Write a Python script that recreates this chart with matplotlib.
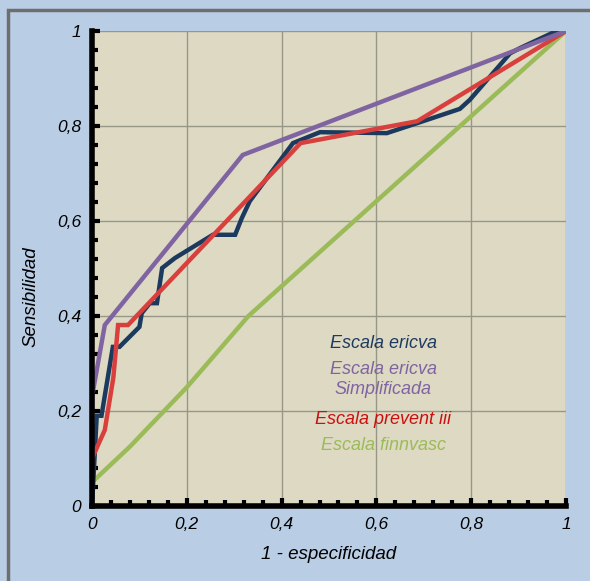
import matplotlib.pyplot as plt
from matplotlib.patches import Rectangle
from matplotlib.ticker import MultipleLocator, FuncFormatter

plt.rcParams['font.family'] = ['Liberation Sans', 'DejaVu Sans']

# ROC curves (x = 1 - especificidad, y = sensibilidad)
ericva_x = [0, 0.01, 0.02, 0.044, 0.058, 0.10, 0.105, 0.122, 0.137, 0.148, 0.175,
            0.255, 0.302, 0.316, 0.333, 0.424, 0.481, 0.622, 0.686, 0.776, 0.797,
            0.882, 0.903, 0.98, 1]
ericva_y = [0, 0.19, 0.19, 0.335, 0.335, 0.377, 0.406, 0.427, 0.427, 0.501, 0.522,
            0.571, 0.571, 0.606, 0.642, 0.764, 0.787, 0.785, 0.806, 0.836, 0.855,
            0.953, 0.964, 1.0, 1]
simpl_x = [0, 0, 0.027, 0.318, 1]
simpl_y = [0, 0.23, 0.381, 0.739, 1]
prevent_x = [0, 0.027, 0.045, 0.055, 0.076, 0.44, 0.686, 1]
prevent_y = [0.10, 0.16, 0.27, 0.381, 0.381, 0.764, 0.81, 1]
finn_x = [0, 0.08, 0.2, 0.33, 1]
finn_y = [0.05, 0.125, 0.25, 0.40, 1]

labels = ['Escala ericva', 'Escala ericva\nSimplificada', 'Escala prevent iii', 'Escala finnvasc']
line_colors = ['#1c3a5e', '#8064a2', '#d9403d', '#9bbb59']
text_colors = ['#1f3a60', '#8064a2', '#cc1010', '#9bbb59']

fig = plt.figure(figsize=(5.90, 5.81), dpi=100)
fig.patch.set_facecolor('#b9cde4')
fig.patches.append(Rectangle((8 / 590, -0.1), 1.2, 1 - 10 / 581 + 0.1, transform=fig.transFigure,
                             fill=False, edgecolor='#6e6e6e', linewidth=2.5, zorder=0))

ax = fig.add_axes([92 / 590, 1 - 506 / 581, 474 / 590, 475 / 581])
ax.set_facecolor('#ddd9c3')
ax.set_xlim(0, 1)
ax.set_ylim(0, 1)

for v in [0.2, 0.4, 0.6, 0.8, 1.0]:
    ax.axvline(v, color='#979788', linewidth=1.0, zorder=1)
    ax.axhline(v, color='#979788', linewidth=1.0, zorder=1)

ax.plot(finn_x, finn_y, color=line_colors[3], linewidth=3.2, zorder=3, solid_joinstyle='miter')
ax.plot(ericva_x, ericva_y, color=line_colors[0], linewidth=3.2, zorder=4, solid_joinstyle='miter')
ax.plot(prevent_x, prevent_y, color=line_colors[2], linewidth=3.2, zorder=5, solid_joinstyle='miter')
ax.plot(simpl_x, simpl_y, color=line_colors[1], linewidth=3.2, zorder=6, solid_joinstyle='miter')

for s in ['top', 'right']:
    ax.spines[s].set_visible(False)
for s in ['left', 'bottom']:
    ax.spines[s].set_linewidth(4)
    ax.spines[s].set_color('black')
    ax.spines[s].set_zorder(7)

ax.xaxis.set_major_locator(MultipleLocator(0.2))
ax.yaxis.set_major_locator(MultipleLocator(0.2))
ax.xaxis.set_minor_locator(MultipleLocator(0.04))
ax.yaxis.set_minor_locator(MultipleLocator(0.04))
fmt = FuncFormatter(lambda v, p: ('%g' % round(v, 2)).replace('.', ','))
ax.xaxis.set_major_formatter(fmt)
ax.yaxis.set_major_formatter(fmt)
ax.tick_params(which='both', direction='in', color='black', width=3,
               labelsize=12.5, pad=8)
ax.tick_params(which='major', length=6)
ax.tick_params(which='minor', length=4)
for lab in ax.get_xticklabels() + ax.get_yticklabels():
    lab.set_style('italic')

ax.set_xlabel('1 - especificidad', fontsize=13.5, style='italic', labelpad=10)
ax.set_ylabel('Sensibilidad', fontsize=13.5, style='italic')
ax.yaxis.set_label_coords(-53 / 474, 0.44)

# legend as coloured text
text_pos = [0.343, 0.266, 0.183, 0.128]
for lab, col, yy in zip(labels, text_colors, text_pos):
    ax.text(0.614, yy, lab, color=col, fontsize=13, style='italic',
            ha='center', va='center', linespacing=1.25, zorder=8)

fig.savefig('out.png', dpi=100, facecolor=fig.get_facecolor())
